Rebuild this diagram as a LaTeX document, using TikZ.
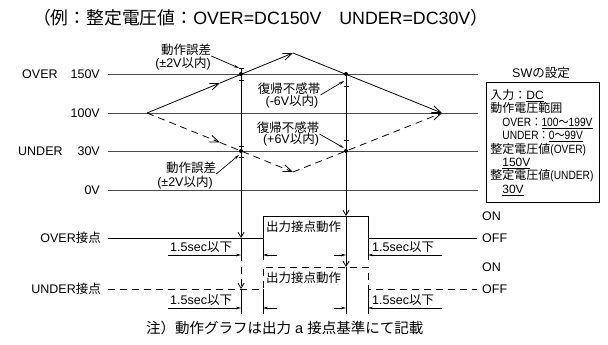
\documentclass[tikz,border=0pt]{standalone}
\usepackage{fontspec}
\setmainfont{Liberation Sans}
\newfontfamily\jpfont{Noto Sans CJK JP}
\newcommand{\jpn}[1]{{\jpfont #1}}
\newcommand{\narrow}[1]{\scalebox{0.85}[1]{#1}}
\usetikzlibrary{arrows.meta}
\usetikzlibrary{calc}

\begin{document}
\begin{tikzpicture}[x=1pt, y=-1pt,
  txt/.style={inner sep=0pt, font=\fontsize{12.5}{14}\selectfont},
  level/.style={draw=black!70, line width=0.9pt},
  wave/.style={line width=0.8pt, -{Straight Barb[length=9pt,width=7pt]}},
  hit/.style={line width=0.8pt, -{Straight Barb[length=5pt,width=6pt]}},
  dim/.style={line width=0.7pt, -{Stealth[length=5pt,width=2.6pt]}},
  dsh/.style={dash pattern=on 7pt off 5pt},
  dot/.style={circle, fill, inner sep=0pt, minimum size=4pt}]
  \useasboundingbox (0,0) rectangle (608,345);

  \node[inner sep=0pt, anchor=west, font=\fontsize{17.8}{18}\selectfont] (title) at (33,18)
    {\jpn{（例：整定電圧値：}OVER=DC150V\jpn{　}UNDER=DC30V\jpn{）}};

  \foreach \n/\y in {150/74, 100/113, 30/151, 0/190} {
    \coordinate (a\n) at (108,\y);
    \coordinate (b\n) at (478,\y);
    \draw[level] (a\n) -- (b\n);
  }
  \node[txt, anchor=west] (over) at (22,74) {OVER};
  \node[txt, anchor=east] (v150) at (100,74) {150V};
  \node[txt, anchor=east] (v100) at (100,113) {100V};
  \node[txt, anchor=west] (under) at (18,151) {UNDER};
  \node[txt, anchor=east] (v30) at (100,151) {30V};
  \node[txt, anchor=east] (v0) at (100,190) {0V};

  \coordinate (start) at (147,113);
  \coordinate (peak) at (293,53);
  \coordinate (trough) at (293,172);
  \coordinate (end) at (442,113);
  \coordinate (m1) at (220,83);
  \coordinate (m2) at (220,142.5);
  \draw[wave] (start) -- (m1);
  \draw[wave] (m1) -- (peak);
  \draw[wave] (peak) -- (end);
  \draw[wave, dsh] (start) -- (m2);
  \draw[wave, dsh] (m2) -- (trough);
  \draw[wave, dsh] (trough) -- (end);

  \coordinate (c1) at (241,74);
  \coordinate (c2) at (346,74);
  \coordinate (c3) at (241,151);
  \coordinate (c4) at (346,151);
  \foreach \c in {c1, c2, c3, c4}
    \node[dot] at (\c) {};
  \foreach \x/\y in {241/68, 241/80, 346/86, 241/146, 241/157, 346/140}
    \draw[line width=0.7pt] (\x-2.5,\y) -- (\x+2.5,\y);

  % contacts
  \coordinate (ov0) at (108,238);
  \coordinate (ovA) at (241,238);
  \coordinate (ov1) at (263,238);
  \coordinate (ov2) at (263,216);
  \coordinate (ovB) at (346,216);
  \coordinate (ov3) at (368,216);
  \coordinate (ov4) at (368,238);
  \coordinate (ov5) at (477,238);
  \coordinate (un0) at (108,289);
  \coordinate (unA) at (241,289);
  \coordinate (un1) at (263,289);
  \coordinate (un2) at (263,267);
  \coordinate (unB) at (346,267);
  \coordinate (un3) at (368,267);
  \coordinate (un4) at (368,289);
  \coordinate (un5) at (477,289);
  \draw[line width=0.8pt] (ov0) -- (ov1) -- (ov2) -- (ov3) -- (ov4) -- (ov5);
  \draw[line width=0.8pt, dsh] (un0) -- (un1) -- (un2) -- (un3) -- (un4) -- (un5);

  \draw[hit] (241,68) -- (ovA);
  \draw[line width=0.8pt] (ovA) -- ($(ovA)+(0,23)$);
  \draw[hit, dsh] ($(ovA)+(0,29)$) -- (unA);
  \draw[line width=0.8pt] (unA) -- ($(unA)+(0,25)$);
  \draw[hit] (c2) -- (ovB);
  \draw[hit] (ovB) -- (unB);
  \draw[line width=0.8pt] (unB) -- ($(unB)+(0,47)$);
  \foreach \p in {ov1, ov4}
    \draw[line width=0.7pt] (\p) -- ($(\p)+(0,22)$);
  \foreach \p in {un1, un4}
    \draw[line width=0.7pt] (\p) -- ($(\p)+(0,25)$);

  \foreach \y/\k in {255/o, 308/u} {
    \draw[dim] (168,\y) -- (241,\y);
    \draw[dim] (277,\y) -- (263,\y);
    \draw[dim] (334,\y) -- (346,\y);
    \draw[dim] (442,\y) -- (368,\y);
    \node[txt, anchor=south west] (t\k1) at (170,\y-2) {1.5sec\jpn{以下}};
    \node[txt, anchor=south west] (t\k2) at (372,\y-2) {1.5sec\jpn{以下}};
  }

  \node[txt, anchor=west] (ovtxt) at (266,227) {\jpn{出力接点動作}};
  \node[txt, anchor=west] (untxt) at (266,278) {\jpn{出力接点動作}};
  \node[txt, anchor=east] (ovlbl) at (101,238) {OVER\jpn{接点}};
  \node[txt, anchor=east] (unlbl) at (101,289) {UNDER\jpn{接点}};
  \node[txt, anchor=west] (on1) at (482,216) {ON};
  \node[txt, anchor=west] (off1) at (482,238) {OFF};
  \node[txt, anchor=west] (on2) at (482,267) {ON};
  \node[txt, anchor=west] (off2) at (482,289) {OFF};

  % notes
  \node[txt] (err1) at (186,50) {\jpn{動作誤差}};
  \node[txt] (err1b) at (183,64) {(±2V\jpn{以内})};
  \node[txt] (err2) at (191,168) {\jpn{動作誤差}};
  \node[txt] (err2b) at (185,183) {(±2V\jpn{以内})};
  \node[txt] (rz1) at (289,89) {\jpn{復帰不感帯}};
  \node[txt] (rz1b) at (292,102) {(-6V\jpn{以内})};
  \node[txt] (rz2) at (288,128) {\jpn{復帰不感帯}};
  \node[txt] (rz2b) at (291,140) {(+6V\jpn{以内})};
  \draw[dim] (err1.south east) -- (239,68);
  \draw[dim] (err2.south east) -- (239,155);
  \draw[dim] (rz1.south east) -- (344,81);
  \draw[dim] (rz2.south east) -- (344,148);

  \node[txt, anchor=west] (swttl) at (512,73) {SW\jpn{の設定}};
  \node[draw, line width=0.8pt, anchor=north west, minimum width=113pt, minimum height=120pt,
    text width=105pt, align=left, inner sep=4pt, font=\fontsize{12}{13.4}\selectfont] (swbox) at (486,82)
    {\jpn{入力：}\underline{DC}\\
     \jpn{動作電圧範囲}\\
     \hspace*{12pt}\narrow{OVER\jpn{：}\underline{100\jpn{～}199V}}\\
     \hspace*{12pt}\narrow{UNDER\jpn{：}\underline{0\jpn{～}99V}}\\
     \jpn{整定電圧値}\narrow{(OVER)}\\
     \hspace*{12pt}\underline{150V}\\
     \jpn{整定電圧値}\narrow{(UNDER)}\\
     \hspace*{12pt}\underline{30V}};

  \node[inner sep=0pt, anchor=west, font=\fontsize{14.5}{15}\selectfont] (foot) at (146,328)
    {\jpn{注）動作グラフは出力} a \jpn{接点基準にて記載}};
\end{tikzpicture}
\end{document}
